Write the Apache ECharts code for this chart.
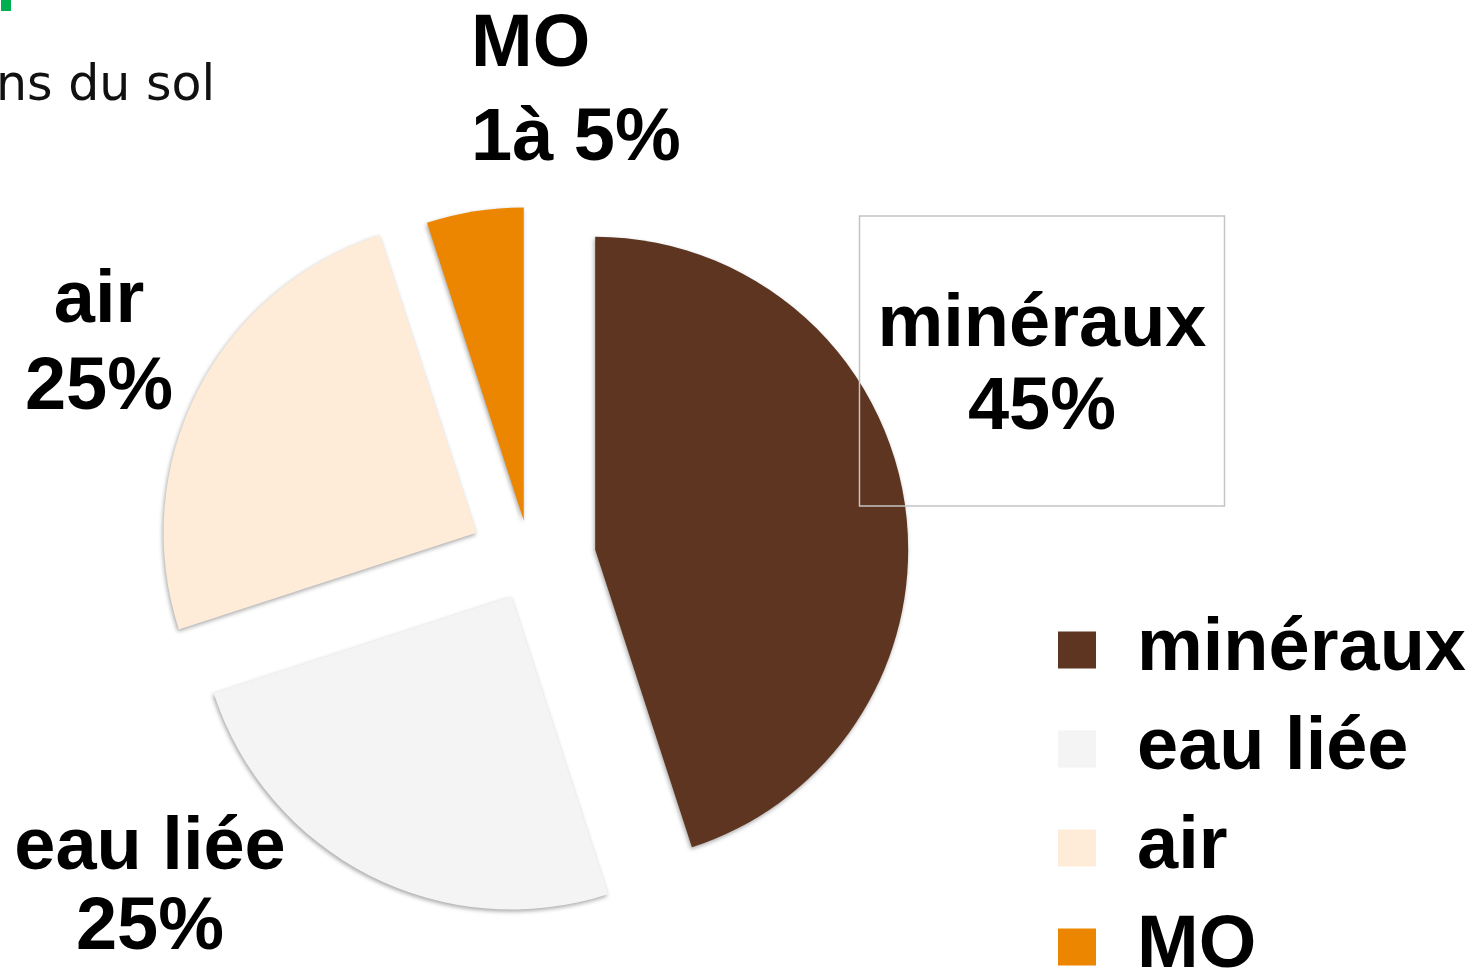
<!DOCTYPE html>
<html>
<head>
<meta charset="utf-8">
<style>
  html, body { margin: 0; padding: 0; background: #fff; }
  #main { width: 1473px; height: 971px; }
</style>
<script src="https://cdn.jsdelivr.net/npm/echarts@6/dist/echarts.min.js"></script>
</head>
<body>
<div id="main"></div>
<script>
const names = ['minéraux', 'eau liée', 'air', 'MO'];
const values = [45, 25, 25, 5];
const labelTexts = ['minéraux\n45%', 'eau liée\n25%', 'air\n25%', 'MO\n1à 5%'];

const colors = ['#5E3520', '#F4F4F4', '#FEECD9', '#EC8600'];
// each slice is pulled out by its own amount
const explode = [66, 41, 60, 40];
// where the slice labels sit (text blocks)
const labelSpots = [
  { x: 1042, y: 216, align: 'center', valign: 'top', lineHeight: 83 },
  { x: 150, y: 889, align: 'center', valign: 'middle', lineHeight: 80 },
  { x: 99, y: 345, align: 'center', valign: 'middle', lineHeight: 87 },
  { x: 471, y: 93, align: 'left', valign: 'middle', lineHeight: 94 }
];

const font = 'Liberation Sans, Arial, sans-serif';
const pieCenter = [530, 560];
const pieRadius = 313;

const chart = echarts.init(document.getElementById('main'));

const total = values.reduce(function (a, b) { return a + b; }, 0);
let acc = 0;
const series = names.map(function (n, i) {
  const spot = labelSpots[i];
  // bisector of slice i, clockwise from 12 o'clock
  const mid = (acc + values[i] / 2) / total * 2 * Math.PI;
  acc += values[i];
  const cx = pieCenter[0] + explode[i] * Math.sin(mid);
  const cy = pieCenter[1] - explode[i] * Math.cos(mid);
  return {
    type: 'pie',
    center: [cx, cy],
    radius: pieRadius,
    startAngle: 90,
    clockwise: true,
    avoidLabelOverlap: false,
    emphasis: { disabled: true },
    labelLine: { show: false },
    labelLayout: { x: spot.x, y: spot.y, align: spot.align, verticalAlign: spot.valign },
    z: 2 + i,
    data: values.map(function (v, j) {
      const own = j === i;
      let label = { show: false };
      if (own) {
        label = {
          show: true,
          position: 'outside',
          formatter: labelTexts[j],
          fontSize: 74,
          fontWeight: 'bold',
          fontFamily: font,
          color: '#000',
          lineHeight: spot.lineHeight
        };
        if (j === 0) {
          label.borderColor = '#C4C4C4';
          label.borderWidth = 1.5;
          label.padding = [68, 18, 56, 18];
        }
      }
      return {
        name: names[j],
        value: v,
        itemStyle: own ? {
          color: colors[j],
          borderWidth: 0,
          shadowBlur: 4,
          shadowOffsetX: -1,
          shadowOffsetY: 2,
          shadowColor: 'rgba(0,0,0,0.35)'
        } : { color: 'rgba(0,0,0,0)', borderWidth: 0 },
        label: label
      };
    })
  };
});

const option = {
  animation: false,
  backgroundColor: '#fff',
  title: {
    text: 'ns du sol',
    left: -4,
    top: 63,
    padding: 0,
    textStyle: {
      fontSize: 49,
      fontWeight: 'normal',
      fontFamily: 'DejaVu Sans, Verdana, sans-serif',
      color: '#111'
    }
  },
  graphic: [{
    type: 'rect',
    left: 1,
    top: 0,
    shape: { width: 10, height: 11 },
    style: { fill: '#00B050' }
  }],
  legend: {
    orient: 'vertical',
    left: 1058,
    top: 613,
    height: 420,
    padding: 0,
    icon: 'rect',
    itemWidth: 38,
    itemHeight: 37,
    itemGap: 25,
    selectedMode: false,
    data: names.map(function (n, i) {
      return { name: n, itemStyle: { color: colors[i], borderWidth: 0 } };
    }),
    textStyle: {
      fontSize: 74,
      fontWeight: 'bold',
      fontFamily: font,
      color: '#000',
      padding: [0, 0, 0, 36]
    }
  },
  series: series
};

chart.setOption(option);
</script>
</body>
</html>
